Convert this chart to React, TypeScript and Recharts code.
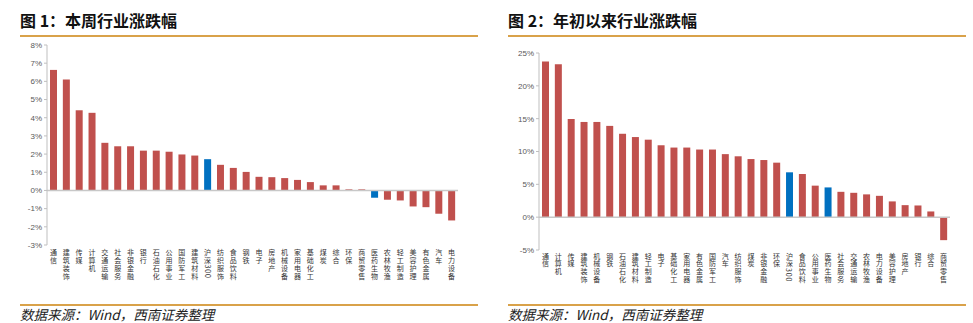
import { BarChart, Bar, XAxis, YAxis, Cell, ReferenceLine } from 'recharts'

const weekCats = [
  '通信', '建筑装饰', '传媒', '计算机', '交通运输', '社会服务', '非银金融', '银行',
  '石油石化', '公用事业', '国防军工', '建筑材料', '沪深300', '纺织服饰', '食品饮料', '钢铁',
  '电子', '房地产', '机械设备', '家用电器', '基础化工', '煤炭', '综合', '环保',
  '商贸零售', '医药生物', '农林牧渔', '轻工制造', '美容护理', '有色金属', '汽车', '电力设备',
]
const weekVals = [
  6.63, 6.1, 4.41, 4.27, 2.62, 2.43, 2.43, 2.19,
  2.19, 2.13, 1.98, 1.92, 1.72, 1.41, 1.24, 1.02,
  0.75, 0.73, 0.68, 0.58, 0.46, 0.28, 0.28, 0.06,
  0.06, -0.4, -0.51, -0.55, -0.88, -0.92, -1.28, -1.65,
]
const weekTicks = [-3, -2, -1, 0, 1, 2, 3, 4, 5, 6, 7, 8]

const ytdCats = [
  '通信', '计算机', '传媒', '建筑装饰', '机械设备', '钢铁', '石油石化', '建筑材料',
  '轻工制造', '电子', '基础化工', '家用电器', '有色金属', '国防军工', '汽车', '纺织服饰',
  '煤炭', '非银金融', '环保', '沪深300', '食品饮料', '公用事业', '医药生物', '社会服务',
  '交通运输', '农林牧渔', '电力设备', '美容护理', '房地产', '银行', '综合', '商贸零售',
]
const ytdVals = [
  23.7, 23.3, 14.95, 14.5, 14.5, 13.9, 12.7, 12.2,
  11.8, 10.95, 10.6, 10.6, 10.3, 10.3, 9.6, 9.27,
  8.85, 8.7, 8.3, 6.83, 6.57, 4.8, 4.53, 3.86,
  3.71, 3.47, 3.25, 2.4, 1.83, 1.78, 0.87, -3.5,
]
const ytdTicks = [-5, 0, 5, 10, 15, 20, 25]

const blueCats = ['沪深300', '医药生物']
const RED = '#C0504D'
const BLUE = '#0070C0'
const GOLD = '#D9A24A'
const CJK = '"Noto Sans CJK SC", sans-serif'

// category labels are written top-to-bottom, one glyph per row
const VerticalTick = (props: any) => {
  const { x, y, payload, first } = props
  return (
    <text
      x={x}
      y={y + first}
      textAnchor="start"
      fontSize={7}
      fontFamily={CJK}
      fill="#333"
      letterSpacing={0.8}
      style={{ writingMode: 'vertical-rl' }}
    >
      {payload.value}
    </text>
  )
}

function Panel(props: {
  cats: string[]
  vals: number[]
  ticks: number[]
  left: number
  yWidth: number
  top: number
  bottom: number
  right: number
  first: number
}) {
  const data = props.cats.map((c, i) => ({ name: c, value: props.vals[i] }))
  return (
    <div style={{ position: 'absolute', left: props.left, top: 0 }}>
      <BarChart
        width={480}
        height={300}
        data={data}
        margin={{ top: props.top, right: props.right, bottom: 0, left: 0 }}
        barCategoryGap={0}
      >
        <YAxis
          width={props.yWidth}
          domain={[props.ticks[0], props.ticks[props.ticks.length - 1]]}
          ticks={props.ticks}
          interval={0}
          tickFormatter={(v) => `${v}%`}
          tick={{ fontSize: 8, fill: '#595959', fontFamily: 'Liberation Sans, Arial, sans-serif' }}
          axisLine={{ stroke: '#bfbfbf' }}
          tickLine={{ stroke: '#bfbfbf' }}
          tickSize={3}
          tickMargin={2}
        />
        <XAxis
          dataKey="name"
          interval={0}
          height={300 - props.bottom}
          axisLine={false}
          tickLine={false}
          tickSize={0}
          tickMargin={0}
          tick={<VerticalTick first={props.first} />}
        />
        <ReferenceLine y={0} stroke="#c8c8c8" strokeWidth={1.5} />
        <Bar dataKey="value" barSize={7} isAnimationActive={false}>
          {data.map((d, i) => (
            <Cell key={`c-${i}`} fill={blueCats.includes(d.name) ? BLUE : RED} />
          ))}
        </Bar>
      </BarChart>
    </div>
  )
}

const Header = (props: { x: number; text: string }) => (
  <>
    <div
      style={{
        position: 'absolute',
        left: props.x,
        top: 10,
        fontFamily: CJK,
        fontWeight: 700,
        fontSize: 16,
        color: '#111',
        lineHeight: '20px',
        whiteSpace: 'nowrap',
      }}
    >
      {props.text}
    </div>
    <div style={{ position: 'absolute', left: props.x, top: 35, width: 458, height: 1.5, background: GOLD }} />
    <div style={{ position: 'absolute', left: props.x, top: 304, width: 458, height: 1.5, background: GOLD }} />
    <div
      style={{
        position: 'absolute',
        left: props.x,
        top: 306,
        fontFamily: CJK,
        fontStyle: 'italic',
        fontSize: 13.5,
        color: '#222',
        lineHeight: '16px',
        whiteSpace: 'nowrap',
      }}
    >
      数据来源：Wind，西南证券整理
    </div>
  </>
)

export default function App() {
  return (
    <div style={{ position: 'absolute', left: 0, top: 0, width: 973, height: 323, background: '#fff', overflow: 'hidden' }}>
      <Panel cats={weekCats} vals={weekVals} ticks={weekTicks} left={0} yWidth={47} top={45} bottom={245} right={22} first={4} />
      <Panel cats={ytdCats} vals={ytdVals} ticks={ytdTicks} left={490} yWidth={49} top={53} bottom={250} right={20} first={2.5} />
      <Header x={20} text="图 1：本周行业涨跌幅" />
      <Header x={508} text="图 2：年初以来行业涨跌幅" />
    </div>
  )
}
